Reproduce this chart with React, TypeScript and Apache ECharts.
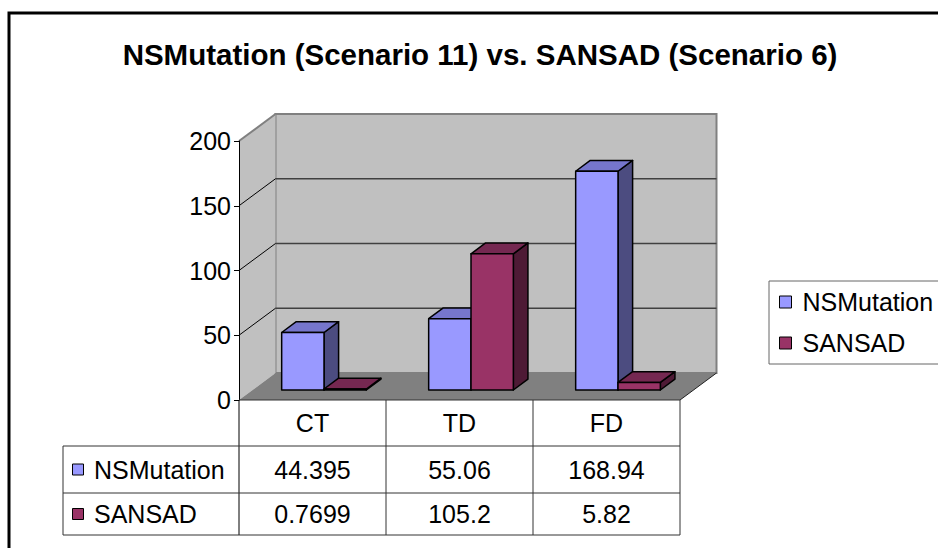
import React, { useEffect, useRef } from "react";
import * as echarts from "echarts";

const categories = ["CT", "TD", "FD"];
const seriesNames = ["NSMutation", "SANSAD"];
const nsMutation = [44.395, 55.06, 168.94];
const sansad = [0.7699, 105.2, 5.82];
const yTicks = [0, 50, 100, 150, 200];
const titleText = "NSMutation (Scenario 11) vs. SANSAD (Scenario 6)";

const FONT = 'Arial, "Liberation Sans", sans-serif';
const DX = 36.5;
const DY = 27;
const F1 = 0.37;
const F2 = 0.77;

const GRID_L = 239;
const GRID_R = 680;
const GRID_T = 141;
const GRID_B = 400;

const palette = [
  { front: "#9999FF", top: "#7676CC", side: "#4C4C80" },
  { front: "#993366", top: "#752851", side: "#4E1A35" },
];

function makeBarRender(slot: number) {
  const c = palette[slot];
  return (params: any, api: any) => {
    const i = api.value(0);
    const v = api.value(1);
    const p0 = api.coord([i, 0]);
    const p1 = api.coord([i, v]);
    const band = api.size([1, 0])[0];
    const w = band * 0.288;
    const x0 = p0[0] - w + slot * w + DX * F1 - 2;
    const yb = p0[1] - DY * F1;
    const yt = p1[1] - DY * F1;
    const d = DX * (F2 - F1);
    const dd = DY * (F2 - F1);
    const st = { stroke: "#000", lineWidth: 1.5, lineJoin: "round" };
    return {
      type: "group",
      children: [
        {
          type: "polygon",
          shape: { points: [[x0 + w, yt], [x0 + w + d, yt - dd], [x0 + w + d, yb - dd], [x0 + w, yb]] },
          style: { fill: c.side, ...st },
        },
        {
          type: "polygon",
          shape: { points: [[x0, yt], [x0 + w, yt], [x0 + w + d, yt - dd], [x0 + d, yt - dd]] },
          style: { fill: c.top, ...st },
        },
        {
          type: "rect",
          shape: { x: x0, y: yt, width: w, height: Math.max(yb - yt, 0.5) },
          style: { fill: c.front, ...st },
        },
      ],
    };
  };
}

function wallsRender(params: any, api: any) {
  const cs = params.coordSys;
  const L = cs.x;
  const R = cs.x + cs.width;
  const T = cs.y;
  const B = cs.y + cs.height;
  const children: any[] = [
    {
      type: "rect",
      shape: { x: L + DX, y: T - DY, width: cs.width, height: cs.height },
      style: { fill: "#C0C0C0", stroke: "#808080", lineWidth: 2 },
    },
    {
      type: "polygon",
      shape: { points: [[L, B], [L, T], [L + DX, T - DY], [L + DX, B - DY]] },
      style: { fill: "#C0C0C0" },
    },
    {
      type: "polygon",
      shape: { points: [[L, B], [R, B], [R + DX, B - DY], [L + DX, B - DY]] },
      style: { fill: "#808080" },
    },
    {
      type: "line",
      shape: { x1: R, y1: B, x2: R + DX, y2: B - DY },
      style: { stroke: "#222", lineWidth: 1 },
    },
    {
      type: "line",
      shape: { x1: L, y1: T, x2: L + DX, y2: T - DY },
      style: { stroke: "#808080", lineWidth: 2 },
    },
  ];
  yTicks.forEach((t) => {
    if (t === yTicks[0] || t === yTicks[yTicks.length - 1]) return;
    const y = api.coord([0, t])[1];
    children.push({
      type: "line",
      shape: { x1: L + DX, y1: y - DY, x2: R + DX, y2: y - DY },
      style: { stroke: "#404040", lineWidth: 1.5 },
    });
    children.push({
      type: "line",
      shape: { x1: L, y1: y, x2: L + DX, y2: y - DY },
      style: { stroke: "#000", lineWidth: 1 },
    });
  });
  return { type: "group", children };
}

export default function App() {
  const ref = useRef<HTMLDivElement>(null);
  useEffect(() => {
    document.body.style.margin = "0";
    const chart = echarts.init(ref.current!, null, { renderer: "svg" });
    const band = (GRID_R - GRID_L) / categories.length;
    const rowTop = [446, 493];
    const rowBot = 535;
    const rowCenters = [469.5, 514];
    const tableLeft = 63;
    const lineStyle = { stroke: "#333", lineWidth: 1 };
    const graphics: any[] = [
      {
        type: "rect",
        shape: { x: 9, y: 13, width: 1200, height: 1200 },
        style: { fill: "none", stroke: "#000", lineWidth: 3 },
        z: 100,
      },
      {
        type: "text",
        x: 480,
        y: 54,
        style: {
          text: titleText,
          fontSize: 29.5,
          fontWeight: "bold",
          fontFamily: FONT,
          fill: "#000",
          align: "center",
          verticalAlign: "middle",
        },
      },
      { type: "line", shape: { x1: GRID_L, y1: GRID_B, x2: GRID_R, y2: GRID_B }, style: lineStyle, z: 50 },
      { type: "line", shape: { x1: GRID_L, y1: GRID_B, x2: GRID_L, y2: rowBot }, style: { stroke: "#000", lineWidth: 1 }, z: 50 },
      { type: "line", shape: { x1: tableLeft, y1: rowTop[0], x2: tableLeft, y2: rowBot }, style: lineStyle, z: 50 },
      { type: "line", shape: { x1: tableLeft, y1: rowBot, x2: GRID_R, y2: rowBot }, style: lineStyle, z: 50 },
    ];
    rowTop.forEach((y) => {
      graphics.push({ type: "line", shape: { x1: tableLeft, y1: y, x2: GRID_R, y2: y }, style: lineStyle, z: 50 });
    });
    for (let k = 1; k <= categories.length; k++) {
      const x = GRID_L + k * band;
      graphics.push({ type: "line", shape: { x1: x, y1: GRID_B, x2: x, y2: rowBot }, style: lineStyle, z: 50 });
    }
    const tableData = [nsMutation, sansad];
    tableData.forEach((vals, r) => {
      graphics.push({
        type: "rect",
        shape: { x: 72.5, y: rowCenters[r] - 5.5, width: 11, height: 11 },
        style: { fill: palette[r].front, stroke: "#000", lineWidth: 1 },
        z: 50,
      });
      graphics.push({
        type: "text",
        x: 94,
        y: rowCenters[r],
        style: { text: seriesNames[r], fontSize: 25, fontFamily: FONT, fill: "#000", align: "left", verticalAlign: "middle" },
        z: 50,
      });
      vals.forEach((v, i) => {
        graphics.push({
          type: "text",
          x: GRID_L + (i + 0.5) * band,
          y: rowCenters[r],
          style: { text: String(v), fontSize: 25, fontFamily: FONT, fill: "#000", align: "center", verticalAlign: "middle" },
          z: 50,
        });
      });
    });

    chart.setOption({
      animation: false,
      backgroundColor: "#fff",
      grid: { left: GRID_L, right: 938 - GRID_R, top: GRID_T, bottom: 548 - GRID_B, containLabel: false },
      legend: {
        orient: "vertical",
        left: 769,
        top: 281,
        selectedMode: false,
        padding: [8, 24, 8, 10],
        itemGap: 15,
        itemWidth: 12,
        itemHeight: 12,
        borderColor: "#666",
        borderWidth: 1,
        icon: "rect",
        itemStyle: { borderColor: "#000", borderWidth: 1 },
        textStyle: { fontSize: 25, fontFamily: FONT, color: "#000", lineHeight: 26, padding: [0, 0, 0, 6] },
        data: seriesNames,
      },
      xAxis: {
        type: "category",
        data: categories,
        axisLine: { show: false },
        axisTick: { show: false },
        splitLine: { show: false },
        axisLabel: { margin: 10, fontSize: 25, fontFamily: FONT, color: "#000" },
      },
      yAxis: {
        type: "value",
        min: yTicks[0],
        max: yTicks[yTicks.length - 1],
        interval: 50,
        z: 10,
        axisLine: { show: true, lineStyle: { color: "#000", width: 1 } },
        axisTick: { show: true, length: 5, lineStyle: { color: "#000" } },
        splitLine: { show: false },
        axisLabel: { margin: 8, fontSize: 25, fontFamily: FONT, color: "#000" },
      },
      series: [
        {
          type: "custom",
          name: "walls",
          silent: true,
          clip: false,
          renderItem: wallsRender,
          data: [[0, 0]],
          z: 1,
        },
        {
          type: "custom",
          name: seriesNames[0],
          clip: false,
          renderItem: makeBarRender(0),
          itemStyle: { color: palette[0].front },
          encode: { x: 0, y: 1 },
          data: nsMutation.map((v, i) => [i, v]),
          z: 2,
        },
        {
          type: "custom",
          name: seriesNames[1],
          clip: false,
          renderItem: makeBarRender(1),
          itemStyle: { color: palette[1].front },
          encode: { x: 0, y: 1 },
          data: sansad.map((v, i) => [i, v]),
          z: 3,
        },
      ],
      graphic: graphics,
    });
    return () => chart.dispose();
  }, []);
  return <div ref={ref} style={{ width: 938, height: 548 }} />;
}
